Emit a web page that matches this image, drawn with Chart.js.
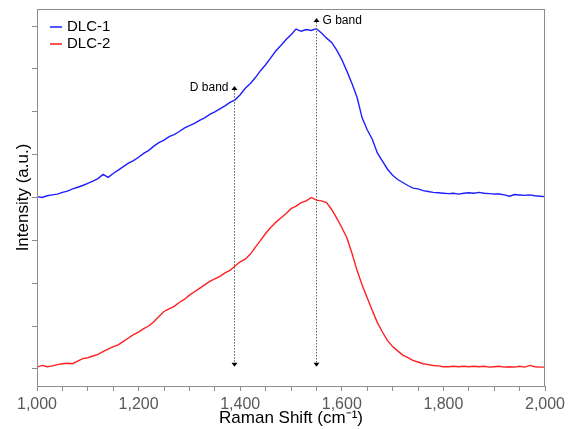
<!DOCTYPE html>
<html>
<head>
<meta charset="utf-8">
<script src="https://cdn.jsdelivr.net/npm/chart.js@4.4.1/dist/chart.umd.min.js"></script>
<style>
  body { margin: 0; background: #fff; }
  canvas { display: block; }
</style>
</head>
<body>
<canvas id="chart" width="576" height="429"></canvas>
<script>
// Raman shift grid, cm-1 (one reading every 10 cm-1)
const ramanShift = Array.from({ length: 101 }, (_, i) => 1000 + i * 10);

// DLC-1 (offset upwards)
const dlc1 = [
    4.02, 4.00, 4.04, 4.06, 4.08, 4.12, 4.15, 4.20, 4.24, 4.28,
    4.33, 4.38, 4.44, 4.54, 4.47, 4.56, 4.64, 4.72, 4.80, 4.86,
    4.94, 5.03, 5.10, 5.20, 5.28, 5.34, 5.42, 5.47, 5.54, 5.62,
    5.68, 5.73, 5.80, 5.86, 5.94, 6.00, 6.07, 6.14, 6.22, 6.28,
    6.40, 6.55, 6.66, 6.80, 6.96, 7.10, 7.26, 7.42, 7.55, 7.68,
    7.80, 7.93, 7.88, 7.92, 7.90, 7.94, 7.84, 7.72, 7.62, 7.44,
    7.22, 6.95, 6.66, 6.34, 5.86, 5.58, 5.36, 5.04, 4.85, 4.66,
    4.52, 4.42, 4.35, 4.28, 4.22, 4.20, 4.16, 4.14, 4.12, 4.11,
    4.10, 4.09, 4.10, 4.08, 4.10, 4.11, 4.10, 4.12, 4.10, 4.09,
    4.08, 4.08, 4.06, 4.03, 4.07, 4.06, 4.05, 4.06, 4.04, 4.03,
    4.02
];

// DLC-2
const dlc2 = [
    0.04, 0.08, 0.05, 0.07, 0.10, 0.12, 0.13, 0.12, 0.18, 0.24,
    0.26, 0.30, 0.34, 0.40, 0.46, 0.52, 0.56, 0.64, 0.72, 0.80,
    0.86, 0.94, 1.00, 1.10, 1.22, 1.34, 1.40, 1.46, 1.55, 1.62,
    1.72, 1.80, 1.88, 1.96, 2.04, 2.10, 2.16, 2.24, 2.30, 2.40,
    2.50, 2.56, 2.68, 2.84, 3.00, 3.16, 3.30, 3.42, 3.52, 3.62,
    3.74, 3.80, 3.88, 3.92, 4.00, 3.94, 3.92, 3.88, 3.72, 3.52,
    3.30, 3.06, 2.70, 2.30, 1.96, 1.66, 1.36, 1.08, 0.86, 0.66,
    0.52, 0.42, 0.32, 0.26, 0.20, 0.16, 0.12, 0.10, 0.08, 0.07,
    0.05, 0.05, 0.06, 0.05, 0.06, 0.05, 0.06, 0.05, 0.06, 0.04,
    0.05, 0.06, 0.04, 0.05, 0.04, 0.06, 0.04, 0.08, 0.05, 0.04,
    0.04
];

const seriesNames = ['DLC-1', 'DLC-2'];

// band markers: position (cm-1) and where the upper arrow ends (intensity)
const bandNames = ['D band', 'G band'];
const bandShift = [1388, 1550];
const bandTop = [6.60, 8.19];
const bandBottom = 0.05;

const FONT = 'Arial, "Liberation Sans", sans-serif';
const colors = ['#1f1fff', '#ff2020'];

const toPoints = (ys) => ys.map((v, i) => ({ x: ramanShift[i], y: v }));

const overlay = {
    id: 'overlay',
    afterDatasetsDraw(chart) {
        const { ctx, chartArea: a, scales: { x, y } } = chart;
        ctx.save();

        // box around plot
        ctx.strokeStyle = '#8c8c8c';
        ctx.lineWidth = 1;
        ctx.strokeRect(a.left + 0.5, a.top + 0.5, a.right - a.left - 1, a.bottom - a.top);

        // D / G band markers
        ctx.font = '12px ' + FONT;
        ctx.textBaseline = 'middle';
        bandShift.forEach((v, i) => {
            const px = Math.round(x.getPixelForValue(v)) + 0.5;
            const top = y.getPixelForValue(bandTop[i]);
            const bot = y.getPixelForValue(bandBottom);

            ctx.strokeStyle = '#606060';
            ctx.setLineDash([1.5, 1.5]);
            ctx.beginPath();
            ctx.moveTo(px, top + 4);
            ctx.lineTo(px, bot - 4);
            ctx.stroke();
            ctx.setLineDash([]);

            ctx.fillStyle = '#000';
            ctx.beginPath();
            ctx.moveTo(px, top);
            ctx.lineTo(px - 3, top + 4);
            ctx.lineTo(px + 3, top + 4);
            ctx.closePath();
            ctx.fill();
            ctx.beginPath();
            ctx.moveTo(px, bot);
            ctx.lineTo(px - 3, bot - 4);
            ctx.lineTo(px + 3, bot - 4);
            ctx.closePath();
            ctx.fill();

            if (i === 0) {
                ctx.textAlign = 'right';
                ctx.fillText(bandNames[i], px - 6, top + 2);
            } else {
                ctx.textAlign = 'left';
                ctx.fillText(bandNames[i], px + 6, top + 3);
            }
        });

        // legend, top left inside the box
        ctx.font = '15px ' + FONT;
        ctx.textAlign = 'left';
        seriesNames.forEach((name, i) => {
            const ly = a.top + 18 + i * 17;
            ctx.strokeStyle = colors[i];
            ctx.lineWidth = 1.5;
            ctx.beginPath();
            ctx.moveTo(a.left + 13, ly);
            ctx.lineTo(a.left + 25, ly);
            ctx.stroke();
            ctx.fillStyle = '#000';
            ctx.fillText(name, a.left + 30, ly);
        });

        ctx.restore();
    }
};

new Chart(document.getElementById('chart'), {
    type: 'line',
    data: {
        datasets: [dlc1, dlc2].map((ys, i) => ({
            label: seriesNames[i],
            data: toPoints(ys),
            borderColor: colors[i],
            borderWidth: 1.4,
            pointRadius: 0,
            tension: 0,
            fill: false,
        }))
    },
    options: {
        responsive: false,
        animation: false,
        layout: { padding: { top: 9, right: 31, left: 0, bottom: 0 } },
        plugins: { legend: { display: false }, tooltip: { enabled: false } },
        scales: {
            x: {
                type: 'linear',
                min: 1000,
                max: 2000,
                grid: { drawOnChartArea: false, tickLength: 5, tickColor: '#8c8c8c' },
                border: { color: '#8c8c8c' },
                ticks: {
                    stepSize: 50,
                    autoSkip: false,
                    maxRotation: 0,
                    padding: 4,
                    color: '#595959',
                    font: { family: FONT, size: 16 },
                    callback: (v) => (v % 200 === 0 ? v.toLocaleString('en-US') : ''),
                },
                title: {
                    display: true,
                    text: 'Raman Shift (cm\u207B\u00B9)',
                    color: '#000',
                    font: { family: FONT, size: 17 },
                    padding: { top: 0, bottom: 0 },
                },
                afterFit: (s) => { s.height = 43; },
            },
            y: {
                min: -0.4,
                max: 8.4,
                grid: { drawOnChartArea: false, tickLength: 5, tickColor: '#8c8c8c' },
                border: { color: '#8c8c8c' },
                ticks: { stepSize: 1, includeBounds: false, display: false },
                title: {
                    display: true,
                    text: 'Intensity (a.u.)',
                    color: '#000',
                    font: { family: FONT, size: 17 },
                    padding: { top: 13, bottom: 0 },
                },
                afterFit: (s) => { s.width = 37; },
            }
        }
    },
    plugins: [overlay]
});
</script>
</body>
</html>
